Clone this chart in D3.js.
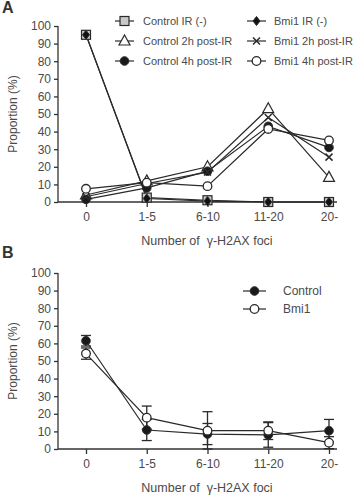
<!DOCTYPE html>
<html><head><meta charset="utf-8">
<script src="https://cdn.jsdelivr.net/npm/d3@7"></script>
<style>body{margin:0;background:#fff}svg{display:block}text{font-family:"Liberation Sans",Arial,sans-serif;fill:#4a4a4a}</style>
</head><body>
<script>
const categories = ["0","1-5","6-10","11-20","20-"];
const yTicks = [0,10,20,30,40,50,60,70,80,90,100];

// Panel A series
const ctrlIR   = [95, 2.5, 1, 0, 0];
const ctrl2h   = [4, 12, 20, 53, 14];
const ctrl4h   = [1.5, 8, 17.5, 43, 31];
const bmiIR    = [95, 2, 0.5, 0, 0];
const bmi2h    = [3, 10.5, 17, 48, 25.5];
const bmi4h    = [7.5, 11, 9, 41.5, 35];
const seriesANames = ["Control IR (-)","Control 2h post-IR","Control 4h post-IR","Bmi1 IR (-)","Bmi1 2h post-IR","Bmi1 4h post-IR"];
const seriesASymbols = ["square","triangle","dot","diamond","cross","circle"];

// Panel B series
const ctrlB = [61.5, 10.8, 8.5, 8, 10.4];
const ctrlBErr = [3, 6, 6, 7, 6.4];
const bmiB = [54.2, 17.8, 10.4, 10.4, 3.6];
const bmiBErr = [3.2, 6.6, 10.8, 5, 3.4];
const seriesBNames = ["Control","Bmi1"];

const svg = d3.select("body").append("svg").attr("width",353).attr("height",500);
const stroke = "#2a2a2a";
const FS = 12, LFS = 11;

function drawMarker(g, type, x, y){
  const s = g.append("g").attr("transform",`translate(${x},${y})`);
  if(type==="square") s.append("rect").attr("x",-4.5).attr("y",-4.5).attr("width",9).attr("height",9).attr("fill","#c8c8c8").attr("stroke",stroke).attr("stroke-width",1.2);
  else if(type==="triangle") s.append("path").attr("d","M0,-6L5.5,4L-5.5,4Z").attr("fill","#fff").attr("stroke",stroke).attr("stroke-width",1.2);
  else if(type==="dot") s.append("circle").attr("r",4.3).attr("fill","#1a1a1a").attr("stroke",stroke);
  else if(type==="diamond") s.append("path").attr("d","M0,-4.5L3.5,0L0,4.5L-3.5,0Z").attr("fill","#111").attr("stroke",stroke);
  else if(type==="cross") s.append("path").attr("d","M-3.5,-3.5L3.5,3.5M-3.5,3.5L3.5,-3.5").attr("stroke",stroke).attr("stroke-width",1.5);
  else if(type==="circle") s.append("circle").attr("r",4.3).attr("fill","#fff").attr("stroke",stroke).attr("stroke-width",1.3);
}

function panel(top, bottom){
  const x = d3.scalePoint().domain(categories).range([86,329]);
  const y = d3.scaleLinear().domain([0,100]).range([bottom, top]);
  const g = svg.append("g");
  const ya = g.append("g").attr("transform","translate(58,0)").call(d3.axisLeft(y).tickValues(yTicks).tickSize(4).tickPadding(3));
  ya.select(".domain").attr("d",`M0,${top}V${bottom}`);
  const xa = g.append("g").attr("transform",`translate(0,${bottom})`).call(d3.axisBottom(x).tickSize(5).tickPadding(5));
  xa.select(".domain").attr("d","M58,0H337");
  [ya,xa].forEach(a=>{a.selectAll("line,path").attr("stroke","#333").attr("stroke-width",1.3);
    a.selectAll("text").attr("font-size",FS).style("fill","#4a4a4a").attr("font-family","Liberation Sans, Arial, sans-serif");});
  g.append("text").attr("transform",`translate(17,${(top+bottom)/2}) rotate(-90)`).attr("text-anchor","middle").attr("font-size",FS).text("Proportion (%)");
  g.append("text").attr("x",207).attr("y",bottom+43).attr("text-anchor","middle").attr("font-size",12.5).attr("xml:space","preserve").text("Number of  γ-H2AX foci");
  return {x,y,g};
}

// Panel A
svg.append("text").attr("x",2).attr("y",13).attr("font-size",16).attr("font-weight","bold").style("fill","#333").text("A");
const A = panel(26, 202);
const seriesA = [ctrlIR, ctrl2h, ctrl4h, bmiIR, bmi2h, bmi4h];
const line = (p)=>d3.line().x((d,i)=>p.x(categories[i])).y(d=>p.y(d));
seriesA.forEach(s=>{A.g.append("path").attr("d",line(A)(s)).attr("fill","none").attr("stroke",stroke).attr("stroke-width",1.2);});
seriesA.forEach((s,k)=>{s.forEach((v,i)=>drawMarker(A.g, seriesASymbols[k], A.x(categories[i]), A.y(v)));});
seriesANames.forEach((n,k)=>{
  const col = k<3?0:1, row=k%3;
  const lx = col===0?115:247, ly = 21+row*20;
  svg.append("line").attr("x1",lx).attr("x2",lx+19).attr("y1",ly).attr("y2",ly).attr("stroke",stroke).attr("stroke-width",1.2);
  drawMarker(svg, seriesASymbols[k], lx+9.5, ly);
  svg.append("text").attr("x",col===0?143:274).attr("y",ly+4).attr("font-size",LFS).text(n);
});

// Panel B
svg.append("text").attr("x",2).attr("y",258).attr("font-size",16).attr("font-weight","bold").style("fill","#333").text("B");
const B = panel(273, 449);
[[bmiB,bmiBErr],[ctrlB,ctrlBErr]].forEach(([s,e])=>{
  s.forEach((v,i)=>{
    const cx = B.x(categories[i]);
    const y1 = B.y(v+e[i]), y2 = B.y(Math.max(0,v-e[i]));
    B.g.append("line").attr("x1",cx).attr("x2",cx).attr("y1",y1).attr("y2",y2).attr("stroke",stroke).attr("stroke-width",1.3);
    [y1,y2].forEach(yy=>B.g.append("line").attr("x1",cx-5).attr("x2",cx+5).attr("y1",yy).attr("y2",yy).attr("stroke",stroke).attr("stroke-width",1.3));
  });
});
[ctrlB,bmiB].forEach(s=>B.g.append("path").attr("d",line(B)(s)).attr("fill","none").attr("stroke",stroke).attr("stroke-width",1.2));
ctrlB.forEach((v,i)=>drawMarker(B.g,"dot",B.x(categories[i]),B.y(v)));
bmiB.forEach((v,i)=>drawMarker(B.g,"circle",B.x(categories[i]),B.y(v)));
seriesBNames.forEach((n,k)=>{
  const ly = 291+k*18;
  svg.append("line").attr("x1",243).attr("x2",266).attr("y1",ly).attr("y2",ly).attr("stroke",stroke).attr("stroke-width",1.2);
  drawMarker(svg, k===0?"dot":"circle", 254.5, ly);
  svg.append("text").attr("x",283).attr("y",ly+4).attr("font-size",12).text(n);
});
</script>
</body></html>
